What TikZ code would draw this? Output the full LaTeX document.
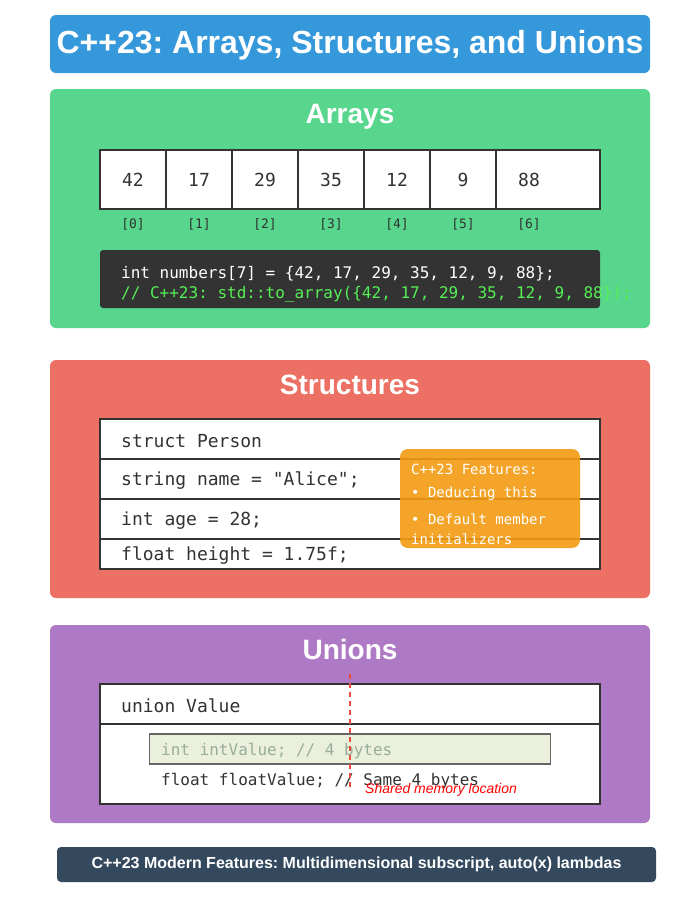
\documentclass[tikz,border=0pt]{standalone}
\usepackage{fontspec}
\setmainfont{Liberation Sans}
\setmonofont{DejaVu Sans Mono}
\usetikzlibrary{positioning}
\frenchspacing

\definecolor{titleblue}{HTML}{3498DB}
\definecolor{arrgreen}{HTML}{58D68D}
\definecolor{structred}{HTML}{EC7063}
\definecolor{unionpurple}{HTML}{AF7AC5}
\definecolor{footblue}{HTML}{34495E}
\definecolor{featorange}{HTML}{F39C12}
\definecolor{codebg}{HTML}{333333}
\definecolor{codegreen}{HTML}{55F055}
\definecolor{ink}{HTML}{333333}
\definecolor{slotfill}{HTML}{EAF0DC}
\definecolor{slotline}{HTML}{666666}
\definecolor{slottext}{HTML}{98AE98}
\definecolor{memred}{HTML}{E74C3C}

\begin{document}
\begin{tikzpicture}[x=1pt, y=-1pt,
    panel/.style = {rounded corners=6pt, minimum width=600pt, inner sep=0pt, outer sep=0pt},
    head/.style = {anchor=base, text=white, font=\bfseries\fontsize{28}{32}\selectfont},
    cell/.style = {draw=ink, fill=white, line width=1.5pt, minimum width=66pt, minimum height=59pt, inner sep=0pt, outer sep=0pt, text=ink, font=\ttfamily\fontsize{18}{22}\selectfont},
    idx/.style = {text=ink, font=\ttfamily\fontsize{13}{16}\selectfont},
    code/.style = {anchor=west, inner sep=0pt, font=\ttfamily\fontsize{16}{19}\selectfont},
    row/.style = {draw=ink, fill=white, line width=1.5pt, minimum width=500pt, minimum height=40pt, inner sep=0pt, outer sep=0pt},
    field/.style = {anchor=west, inner sep=0pt, text=ink, font=\ttfamily\fontsize{18}{22}\selectfont},
    feat/.style = {anchor=west, inner sep=0pt, text=white, font=\ttfamily\fontsize{14}{17}\selectfont}]
    \useasboundingbox[fill=white] (0,0) rectangle (700,906);

    \node[panel, fill=titleblue, minimum height=58pt] (title) at (350,44) {};
    \node[head, font=\bfseries\fontsize{32}{36}\selectfont] (titletext) at (350,53.5) {C++23: Arrays, Structures, and Unions};

    % arrays
    \node[panel, fill=arrgreen, minimum height=239pt] (arrays) at (350,208.5) {};
    \node[head] (arrayshead) at (350,123.5) {Arrays};
    \node[cell, minimum width=500pt] (frame) at (350,179.5) {};
    \node[cell] (c0) at (133,179.5) {42};
    \node[cell] (c1) [right=0pt of c0] {17};
    \node[cell] (c2) [right=0pt of c1] {29};
    \node[cell] (c3) [right=0pt of c2] {35};
    \node[cell] (c4) [right=0pt of c3] {12};
    \node[cell] (c5) [right=0pt of c4] {9};
    \node[cell, draw=none, fill=none] (c6) [right=0pt of c5] {88};
    \node[idx] (i0) at (133,224) {[0]};
    \node[idx] (i1) at (199,224) {[1]};
    \node[idx] (i2) at (265,224) {[2]};
    \node[idx] (i3) at (331,224) {[3]};
    \node[idx] (i4) at (397,224) {[4]};
    \node[idx] (i5) at (463,224) {[5]};
    \node[idx] (i6) at (529,224) {[6]};
    \node[panel, fill=codebg, minimum width=500pt, minimum height=58pt, rounded corners=3pt] (codebox) at (350,279) {};
    \node[code, text=white] (decl) at (121,274) {int numbers[7] = \{42, 17, 29, 35, 12, 9, 88\};};
    \node[code, text=codegreen] (hint) at (121,294) {// C++23: std::to\_array(\{42, 17, 29, 35, 12, 9, 88\});};

    % structures
    \node[panel, fill=structred, minimum height=238pt] (structs) at (350,479) {};
    \node[head] (structshead) at (350,394.5) {Structures};
    \node[row] (s0) at (350,439) {};
    \node[row] (s1) [below=0pt of s0] {};
    \node[row] (s2) [below=0pt of s1] {};
    \node[row, minimum height=30pt] (s3) [below=0pt of s2] {};
    \node[field] (person) at (121,441) {struct Person};
    \node[field] (name) at (121,481) {string name = "Alice";};
    \node[field] (age) at (121,521) {int age = 28;};
    \node[field] (height) at (121,555.5) {float height = 1.75f;};
    \node[panel, fill=featorange, fill opacity=0.9, minimum width=180pt, minimum height=99pt, rounded corners=8pt] (features) at (490,498.5) {};
    \node[feat] (f0) at (411,469) {C++23 Features:};
    \node[feat] (f1) at (411,494) {• Deducing this};
    \node[feat] (f2) at (411,519) {• Default member};
    \node[feat] (f3) at (411,539) {initializers};

    % unions
    \node[panel, fill=unionpurple, minimum height=198pt] (unions) at (350,724) {};
    \node[head] (unionshead) at (350,659.5) {Unions};
    \node[row] (u0) at (350,704) {};
    \node[row, minimum height=80pt] (u1) [below=0pt of u0] {};
    \node[field] (uname) at (121,706) {union Value};
    \node[draw=slotline, fill=slotfill, line width=1.5pt, minimum width=401pt, minimum height=30pt, inner sep=0pt] (slot) at (350,749) {};
    \node[code, text=slottext] (intval) at (161,751) {int intValue; // 4 bytes};
    \node[code, text=ink] (floatval) at (161,781) {float floatValue; // Same 4 bytes};
    \coordinate (memtop) at (350,674);
    \coordinate (membot) at (350,788);
    \draw[memred, line width=1.5pt, dash pattern=on 5pt off 4pt] (memtop) -- (membot);
    \node[anchor=west, inner sep=0pt, text=red, font=\itshape\fontsize{14}{16}\selectfont] (memnote) at (365,790) {Shared memory location};

    \node[panel, fill=footblue, minimum width=599pt, minimum height=35pt, rounded corners=4pt, text=white, font=\bfseries\fontsize{16}{19}\selectfont] (footer) at (356.5,864.5) {C++23 Modern Features: Multidimensional subscript, auto(x) lambdas};
\end{tikzpicture}
\end{document}
